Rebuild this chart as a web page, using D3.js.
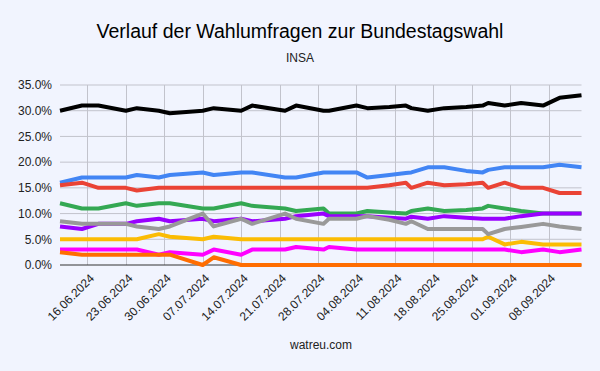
<!DOCTYPE html>
<html><head><meta charset="utf-8">
<script src="https://cdn.jsdelivr.net/npm/d3@7"></script>
<style>html,body{margin:0;padding:0;background:#f1f4fe;}svg{display:block;font-family:"Liberation Sans",Arial,sans-serif;}</style>
</head><body>
<script>
const dates = ["11.06.2024","15.06.2024","18.06.2024","23.06.2024","25.06.2024","29.06.2024","01.07.2024","07.07.2024","09.07.2024","14.07.2024","16.07.2024","22.07.2024","24.07.2024","29.07.2024","30.07.2024","04.08.2024","06.08.2024","10.08.2024","13.08.2024","14.08.2024","17.08.2024","20.08.2024","24.08.2024","27.08.2024","28.08.2024","31.08.2024","03.09.2024","07.09.2024","10.09.2024","14.09.2024"];
const cdu   = [30,31,31,30,30.5,30,29.5,30,30.5,30,31,30,31,30,30,31,30.5,30.7,31,30.5,30,30.5,30.7,31,31.5,31,31.5,31,32.5,33];
const afd   = [16,17,17,17,17.5,17,17.5,18,17.5,18,18,17,17,18,18,18,17,17.5,17.9,18,19,19,18.3,18,18.5,19,19,19,19.5,19];
const spd   = [15.5,16,15,15,14.5,15,15,15,15,15,15,15,15,15,15,15,15,15.5,16,15,16,15.5,15.7,16,15,16,15,15,14,14];
const gruene= [12,11,11,12,11.5,12,12,11,11,12,11.5,11,10.5,11,10,10,10.5,10.2,10,10.5,11,10.5,10.7,11,11.5,11,10.5,10,10,10];
const bsw   = [7.5,7,8,8,8.5,9,8.5,9,8.5,9,8.5,9,9.5,10,9.5,9.5,9.5,9.2,9,9.4,9,9.5,9.2,9,9,9,9.5,10,10,10];
const fdp   = [5,5,5,5,5,6,5.5,5,5.5,5,5,5,5,5,5,5,5,5,5,5,5,5,5,5,5.5,4,4.5,4,4,4];
const linke = [3,3,3,3,3,2,2.5,2,3,2,3,3,3.5,3,3.5,3,3,3,3,3,3,3,3,3,3,3,2.5,3,2.5,3];
const fw    = [2.5,2,2,2,2,2,2,0,1.5,0,0,0,0,0,0,0,0,0,0,0,0,0,0,0,0,0,0,0,0,0];
const sonst = [8.5,8,8,8,7.5,7,7.5,10,7.5,9,8,10,9,8,9,9,9.5,8.8,8,8.5,7,7,7,7,6,7,7.4,8,7.5,7];
const seriesNames = ["CDU/CSU","AfD","SPD","Grüne","BSW","FDP","Linke","Freie Wähler","Sonstige"];
const seriesColors = ["#000000","#4285f4","#ea4335","#34a853","#9900ff","#fbbc04","#ff00ff","#ff6d01","#999999"];
const seriesValues = [cdu,afd,spd,gruene,bsw,fdp,linke,fw,sonst];
const yTicks = [0,5,10,15,20,25,30,35];
const xTickLabels = ["16.06.2024","23.06.2024","30.06.2024","07.07.2024","14.07.2024","21.07.2024","28.07.2024","04.08.2024","11.08.2024","18.08.2024","25.08.2024","01.09.2024","08.09.2024"];
const titleText = "Verlauf der Wahlumfragen zur Bundestagswahl";
const subtitleText = "INSA";
const sourceText = "watreu.com";

const W = 600, H = 371;
const m = {left: 60, right: 18.5, top: 85, bottom: 106};
const parse = d3.utcParse("%d.%m.%Y");
const dts = dates.map(parse);

const svg = d3.select("body").append("svg").attr("width", W).attr("height", H);
svg.append("rect").attr("width", W).attr("height", H).attr("fill", "#f1f4fe");

const x = d3.scaleUtc().domain([dts[0], dts[dts.length-1]]).range([m.left, W - m.right]);
const y = d3.scaleLinear().domain([0, 35]).range([H - m.bottom, m.top]);

// horizontal grid
svg.append("g").selectAll("line").data(yTicks.filter(t => t > 0)).join("line")
  .attr("x1", m.left).attr("x2", W - m.right)
  .attr("y1", d => y(d)).attr("y2", d => y(d))
  .attr("stroke", "#c2c3cc").attr("stroke-width", 1);
// vertical grid
const xt = xTickLabels.map(parse);
svg.append("g").selectAll("line").data(xt).join("line")
  .attr("x1", d => Math.round(x(d)) + 0.5).attr("x2", d => Math.round(x(d)) + 0.5)
  .attr("y1", y(35)).attr("y2", y(0))
  .attr("stroke", "#c2c3cc").attr("stroke-width", 1);
// baseline
svg.append("line").attr("x1", m.left).attr("x2", W - m.right)
  .attr("y1", y(0)).attr("y2", y(0)).attr("stroke", "#333").attr("stroke-width", 1);

// y labels
const yAxis = d3.axisLeft(y).tickValues(yTicks).tickFormat(d => d3.format(".1f")(d) + "%").tickSize(0).tickPadding(8);
const ya = svg.append("g").attr("transform", `translate(${m.left},0)`).call(yAxis);
ya.select(".domain").remove();
ya.selectAll("text").attr("font-size", 12).attr("fill", "#222").attr("font-family", "Liberation Sans, Arial, sans-serif");

// x labels
const xAxis = d3.axisBottom(x).tickValues(xt).tickFormat(d3.utcFormat("%d.%m.%Y")).tickSize(0);
const xa = svg.append("g").attr("transform", `translate(0,${y(0)})`).call(xAxis);
xa.select(".domain").remove();
xa.selectAll("text")
  .attr("font-size", 12).attr("fill", "#222").attr("font-family", "Liberation Sans, Arial, sans-serif")
  .attr("text-anchor", "end").attr("dy", null).attr("y", 0)
  .attr("transform", "translate(7,14) rotate(-45)");

// lines
const line = d3.line().x((d, i) => x(dts[i])).y(d => y(d));
svg.append("g").selectAll("path").data(seriesValues).join("path")
  .attr("d", d => line(d))
  .attr("fill", "none")
  .attr("stroke", (d, i) => seriesColors[i])
  .attr("stroke-width", 4)
  .attr("stroke-linejoin", "round");

// texts
svg.append("text").attr("x", 300).attr("y", 38).attr("text-anchor", "middle")
  .attr("font-size", 19.5).attr("fill", "#000").text(titleText);
svg.append("text").attr("x", 300).attr("y", 62).attr("text-anchor", "middle")
  .attr("font-size", 12).attr("fill", "#222").text(subtitleText);
svg.append("text").attr("x", 321).attr("y", 349).attr("text-anchor", "middle")
  .attr("font-size", 12).attr("fill", "#222").text(sourceText);
</script>
</body></html>
